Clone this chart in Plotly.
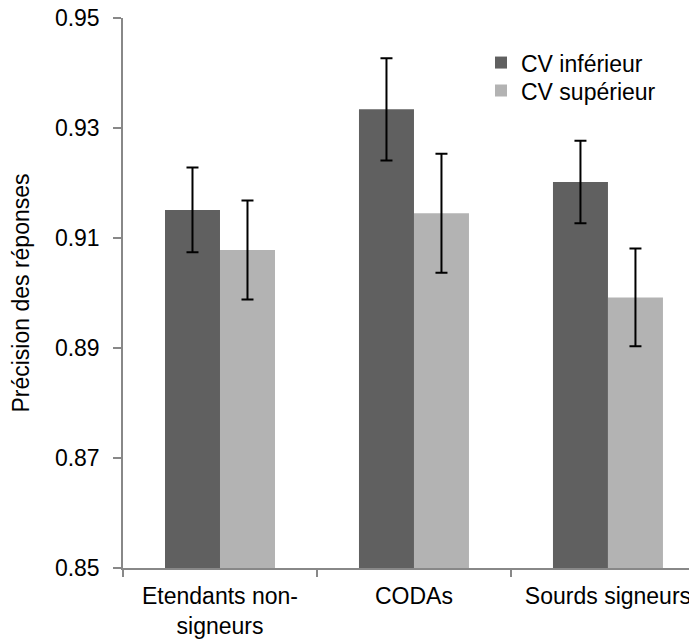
import plotly.graph_objects as go

categories = ["Etendants non-signeurs", "CODAs", "Sourds signeurs"]
tick_labels = ["Etendants non-<br>signeurs", "CODAs", "Sourds signeurs"]

series_names = ["CV inférieur", "CV supérieur"]
cv_inferieur = [0.9151, 0.9334, 0.9202]
cv_inferieur_err = [0.0077, 0.0093, 0.0075]
cv_superieur = [0.9078, 0.9145, 0.8992]
cv_superieur_err = [0.0090, 0.0108, 0.0089]

y_ticks = [0.85, 0.87, 0.89, 0.91, 0.93, 0.95]

FONT = "Liberation Sans, Arial, sans-serif"
FS = 23

fig = go.Figure()
for name, vals, errs, col, leg in [
    (series_names[0], cv_inferieur, cv_inferieur_err, "#606060", "legend"),
    (series_names[1], cv_superieur, cv_superieur_err, "#b3b3b3", "legend2"),
]:
    fig.add_trace(go.Bar(
        x=categories, y=vals, name=name, legend=leg,
        marker=dict(color=col, line=dict(width=0)),
        error_y=dict(type="data", array=errs, visible=True,
                     color="black", thickness=2, width=6),
    ))

leg_common = dict(x=0.6237, xanchor="left", yanchor="top",
                  bgcolor="rgba(0,0,0,0)", itemwidth=30,
                  font=dict(family=FONT, size=FS, color="black"))

fig.update_layout(
    width=689, height=631,
    margin=dict(l=115, r=0, t=10, b=71),
    paper_bgcolor="white", plot_bgcolor="white",
    barmode="group", bargap=0.433, bargroupgap=0,
    font=dict(family=FONT, size=FS, color="black"),
    showlegend=True,
    legend=dict(y=0.958, **leg_common),
    legend2=dict(y=0.907, **leg_common),
)
fig.update_xaxes(
    type="category", range=[-0.5, 2.459],
    tickmode="array", tickvals=categories, ticktext=tick_labels,
    tickson="boundaries", ticks="outside", ticklen=7, tickwidth=1.5, tickcolor="#888888",
    ticklabelstandoff=7, ticklabeloverflow="allow",
    showline=True, linecolor="#888888", linewidth=1.5,
    showgrid=False, zeroline=False,
    tickfont=dict(family=FONT, size=FS, color="black"),
)
fig.update_yaxes(
    range=[0.85, 0.95], tickmode="array", tickvals=y_ticks,
    ticktext=[f"{v:.2f}" for v in y_ticks],
    ticks="outside", ticklen=8, tickwidth=1.5, tickcolor="#888888",
    ticklabelstandoff=9, ticklabeloverflow="allow",
    showline=True, linecolor="#888888", linewidth=1.5,
    showgrid=False, zeroline=False,
    tickfont=dict(family=FONT, size=FS, color="black"),
    title=dict(text="Précision des réponses", standoff=25,
               font=dict(family=FONT, size=FS, color="black")),
    automargin=False,
)

fig.write_html("out.html")
